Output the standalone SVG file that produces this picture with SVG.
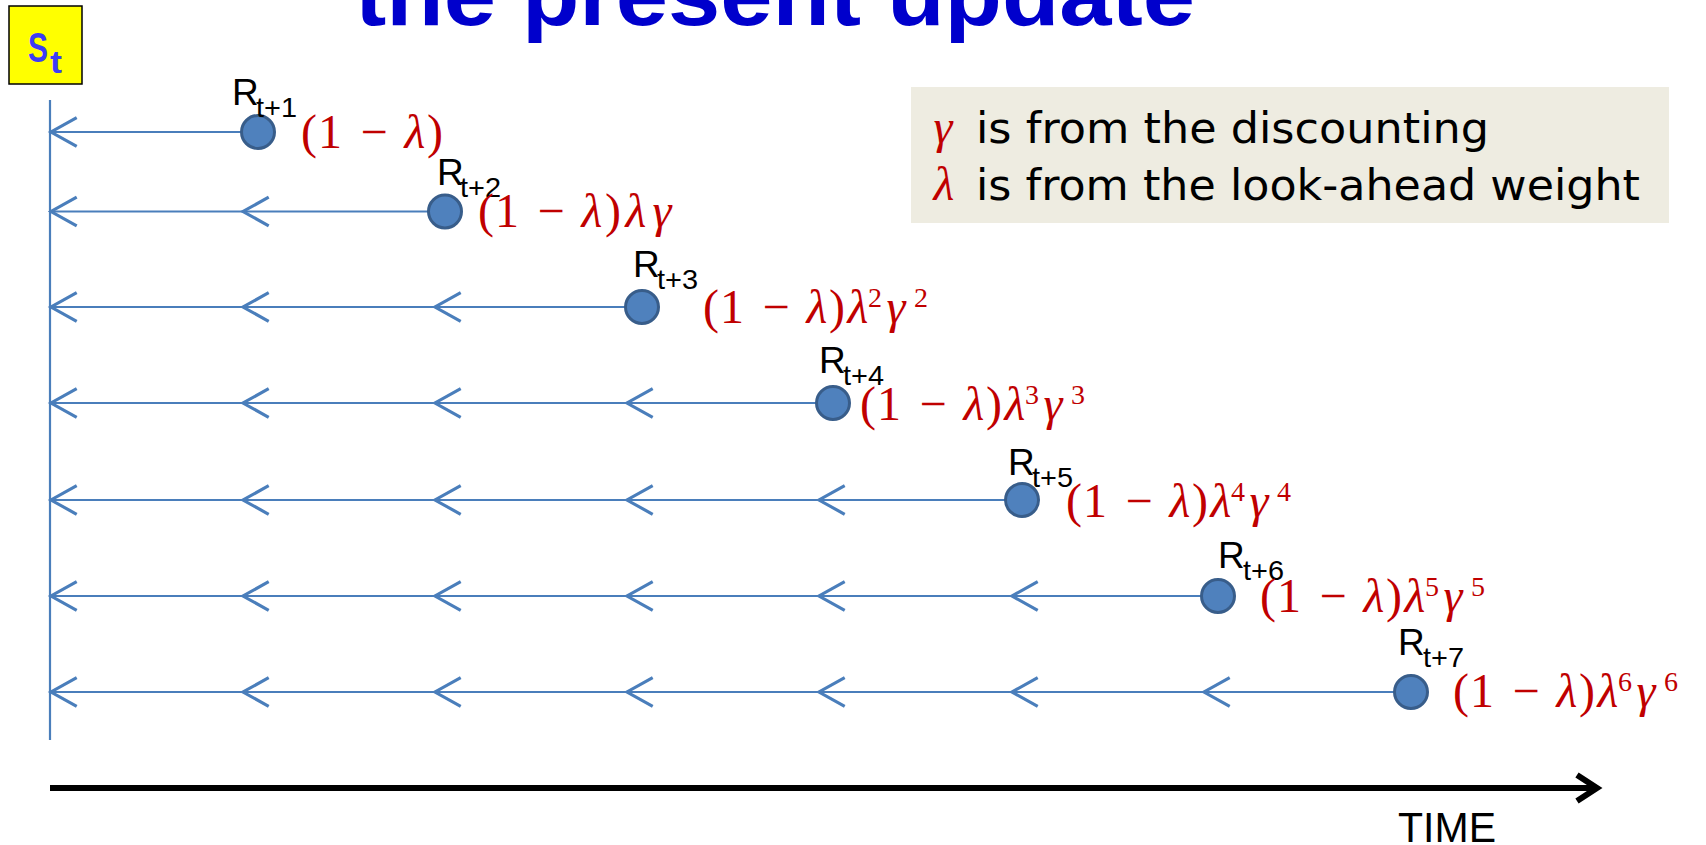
<svg xmlns="http://www.w3.org/2000/svg" width="1706" height="845" viewBox="0 0 1706 845">
<style>
.ln{stroke:#4a7ebb;stroke-width:2.2;fill:none}
.nd{fill:#4f81bd;stroke:#385d8a;stroke-width:3}
.rl{font-family:"Liberation Sans",Arial,sans-serif;font-size:37px;fill:#000}
.rs{font-family:"Liberation Sans",Arial,sans-serif;font-size:28px;fill:#000}
.fm{font-family:"Liberation Serif","DejaVu Serif",serif;font-size:48px;fill:#c00000;text-anchor:middle}
.it{font-style:italic}
.sp{font-size:28px}
.lg{font-family:"DejaVu Sans","Noto Sans",sans-serif;font-size:42px;fill:#000}
</style>
<defs>
<marker id="ah" markerUnits="userSpaceOnUse" markerWidth="40" markerHeight="40" viewBox="-22 -14 26 28" refX="0" refY="0" orient="auto" overflow="visible">
<path d="M-18,-10 L0,0 L-18,10" fill="none" stroke="#4a7ebb" stroke-width="2.2"/>
</marker>
</defs>
<rect width="1706" height="845" fill="#fff"/>

<g id="title">
<text x="355" y="25" font-family="'Liberation Sans',Arial,sans-serif" font-weight="bold" font-size="88" fill="#0000cc" textLength="840" lengthAdjust="spacingAndGlyphs">the present update</text>
</g>

<g id="state">
<rect x="9" y="6" width="73" height="78" fill="#ffff00" stroke="#000" stroke-width="1.5"/>
<text x="28" y="62" font-family="'Liberation Sans',Arial,sans-serif" font-weight="bold" font-size="42" fill="#3c3cf5" textLength="20" lengthAdjust="spacingAndGlyphs">S</text>
<text x="50" y="73" font-family="'Liberation Sans',Arial,sans-serif" font-weight="bold" font-size="32" fill="#3c3cf5" textLength="12" lengthAdjust="spacingAndGlyphs">t</text>
</g>

<g id="legend">
<rect x="911" y="87" width="758" height="136" fill="#eeece1"/>
<text x="943" y="143" class="fm it">γ</text>
<text x="976" y="143" class="lg" textLength="513" lengthAdjust="spacingAndGlyphs">is from the discounting</text>
<text x="944" y="200" class="fm it">λ</text>
<text x="976" y="200" class="lg" textLength="664" lengthAdjust="spacingAndGlyphs">is from the look-ahead weight</text>
</g>

<g id="connectors">
<line x1="50" y1="100" x2="50" y2="740" class="ln"/>
<line x1="258" y1="132" x2="51" y2="132" class="ln" marker-end="url(#ah)"/>
<line x1="243" y1="211.5" x2="51" y2="211.5" class="ln" marker-end="url(#ah)"/>
<line x1="445" y1="211.5" x2="243" y2="211.5" class="ln" marker-end="url(#ah)"/>
<line x1="243" y1="307" x2="51" y2="307" class="ln" marker-end="url(#ah)"/>
<line x1="435" y1="307" x2="243" y2="307" class="ln" marker-end="url(#ah)"/>
<line x1="642" y1="307" x2="435" y2="307" class="ln" marker-end="url(#ah)"/>
<line x1="243" y1="403" x2="51" y2="403" class="ln" marker-end="url(#ah)"/>
<line x1="435" y1="403" x2="243" y2="403" class="ln" marker-end="url(#ah)"/>
<line x1="627" y1="403" x2="435" y2="403" class="ln" marker-end="url(#ah)"/>
<line x1="833" y1="403" x2="627" y2="403" class="ln" marker-end="url(#ah)"/>
<line x1="243" y1="500" x2="51" y2="500" class="ln" marker-end="url(#ah)"/>
<line x1="435" y1="500" x2="243" y2="500" class="ln" marker-end="url(#ah)"/>
<line x1="627" y1="500" x2="435" y2="500" class="ln" marker-end="url(#ah)"/>
<line x1="819" y1="500" x2="627" y2="500" class="ln" marker-end="url(#ah)"/>
<line x1="1022" y1="500" x2="819" y2="500" class="ln" marker-end="url(#ah)"/>
<line x1="243" y1="596" x2="51" y2="596" class="ln" marker-end="url(#ah)"/>
<line x1="435" y1="596" x2="243" y2="596" class="ln" marker-end="url(#ah)"/>
<line x1="627" y1="596" x2="435" y2="596" class="ln" marker-end="url(#ah)"/>
<line x1="819" y1="596" x2="627" y2="596" class="ln" marker-end="url(#ah)"/>
<line x1="1012" y1="596" x2="819" y2="596" class="ln" marker-end="url(#ah)"/>
<line x1="1218" y1="596" x2="1012" y2="596" class="ln" marker-end="url(#ah)"/>
<line x1="243" y1="692" x2="51" y2="692" class="ln" marker-end="url(#ah)"/>
<line x1="435" y1="692" x2="243" y2="692" class="ln" marker-end="url(#ah)"/>
<line x1="627" y1="692" x2="435" y2="692" class="ln" marker-end="url(#ah)"/>
<line x1="819" y1="692" x2="627" y2="692" class="ln" marker-end="url(#ah)"/>
<line x1="1012" y1="692" x2="819" y2="692" class="ln" marker-end="url(#ah)"/>
<line x1="1204" y1="692" x2="1012" y2="692" class="ln" marker-end="url(#ah)"/>
<line x1="1411" y1="692" x2="1204" y2="692" class="ln" marker-end="url(#ah)"/>
<line x1="50" y1="788" x2="1594" y2="788" stroke="#000" stroke-width="6"/>
<polyline points="1577,775 1597,788 1577,801" fill="none" stroke="#000" stroke-width="6" stroke-linejoin="miter"/>
</g>

<g id="r1">
<circle cx="258" cy="132" r="16.5" class="nd"/>
<text x="232" y="105" class="rl">R</text><text x="256" y="117" class="rs" textLength="41" lengthAdjust="spacingAndGlyphs">t+1</text>
<text y="148" class="fm"><tspan x="309">(</tspan><tspan x="330">1</tspan><tspan x="374">−</tspan><tspan x="415" class="it">λ</tspan><tspan x="435">)</tspan></text>
</g>

<g id="r2">
<circle cx="445" cy="211.5" r="16.5" class="nd"/>
<text x="437" y="185" class="rl">R</text><text x="460" y="197" class="rs" textLength="41" lengthAdjust="spacingAndGlyphs">t+2</text>
<text y="227" class="fm"><tspan x="486">(</tspan><tspan x="507">1</tspan><tspan x="551">−</tspan><tspan x="592" class="it">λ</tspan><tspan x="613">)</tspan><tspan x="636" class="it">λ</tspan><tspan x="662" class="it">γ</tspan></text>
</g>

<g id="r3">
<circle cx="642" cy="307" r="16.5" class="nd"/>
<text x="633" y="277" class="rl">R</text><text x="657" y="289" class="rs" textLength="41" lengthAdjust="spacingAndGlyphs">t+3</text>
<text y="323" class="fm"><tspan x="711">(</tspan><tspan x="732">1</tspan><tspan x="776">−</tspan><tspan x="817" class="it">λ</tspan><tspan x="837">)</tspan><tspan x="858" class="it">λ</tspan><tspan x="875" dy="-16" class="sp">2</tspan><tspan x="896" dy="16" class="it">γ</tspan><tspan x="921" dy="-16" class="sp">2</tspan></text>
</g>

<g id="r4">
<circle cx="833" cy="403" r="16.5" class="nd"/>
<text x="819" y="373" class="rl">R</text><text x="843" y="385" class="rs" textLength="41" lengthAdjust="spacingAndGlyphs">t+4</text>
<text y="420" class="fm"><tspan x="868">(</tspan><tspan x="889">1</tspan><tspan x="933">−</tspan><tspan x="974" class="it">λ</tspan><tspan x="994">)</tspan><tspan x="1015" class="it">λ</tspan><tspan x="1032" dy="-16" class="sp">3</tspan><tspan x="1053" dy="16" class="it">γ</tspan><tspan x="1078" dy="-16" class="sp">3</tspan></text>
</g>

<g id="r5">
<circle cx="1022" cy="500" r="16.5" class="nd"/>
<text x="1008" y="475" class="rl">R</text><text x="1032" y="487" class="rs" textLength="41" lengthAdjust="spacingAndGlyphs">t+5</text>
<text y="517" class="fm"><tspan x="1074">(</tspan><tspan x="1095">1</tspan><tspan x="1139">−</tspan><tspan x="1180" class="it">λ</tspan><tspan x="1200">)</tspan><tspan x="1221" class="it">λ</tspan><tspan x="1238" dy="-16" class="sp">4</tspan><tspan x="1259" dy="16" class="it">γ</tspan><tspan x="1284" dy="-16" class="sp">4</tspan></text>
</g>

<g id="r6">
<circle cx="1218" cy="596" r="16.5" class="nd"/>
<text x="1218" y="568" class="rl">R</text><text x="1243" y="580" class="rs" textLength="41" lengthAdjust="spacingAndGlyphs">t+6</text>
<text y="612" class="fm"><tspan x="1268">(</tspan><tspan x="1289">1</tspan><tspan x="1333">−</tspan><tspan x="1374" class="it">λ</tspan><tspan x="1394">)</tspan><tspan x="1415" class="it">λ</tspan><tspan x="1432" dy="-16" class="sp">5</tspan><tspan x="1453" dy="16" class="it">γ</tspan><tspan x="1478" dy="-16" class="sp">5</tspan></text>
</g>

<g id="r7">
<circle cx="1411" cy="692" r="16.5" class="nd"/>
<text x="1398" y="655" class="rl">R</text><text x="1423" y="667" class="rs" textLength="41" lengthAdjust="spacingAndGlyphs">t+7</text>
<text y="707" class="fm"><tspan x="1461">(</tspan><tspan x="1482">1</tspan><tspan x="1526">−</tspan><tspan x="1567" class="it">λ</tspan><tspan x="1587">)</tspan><tspan x="1608" class="it">λ</tspan><tspan x="1625" dy="-16" class="sp">6</tspan><tspan x="1646" dy="16" class="it">γ</tspan><tspan x="1671" dy="-16" class="sp">6</tspan></text>
</g>

<g id="time">
<text x="1398" y="842" font-family="'Liberation Sans',Arial,sans-serif" font-size="42" fill="#000" textLength="98" lengthAdjust="spacingAndGlyphs">TIME</text>
</g>
</svg>
